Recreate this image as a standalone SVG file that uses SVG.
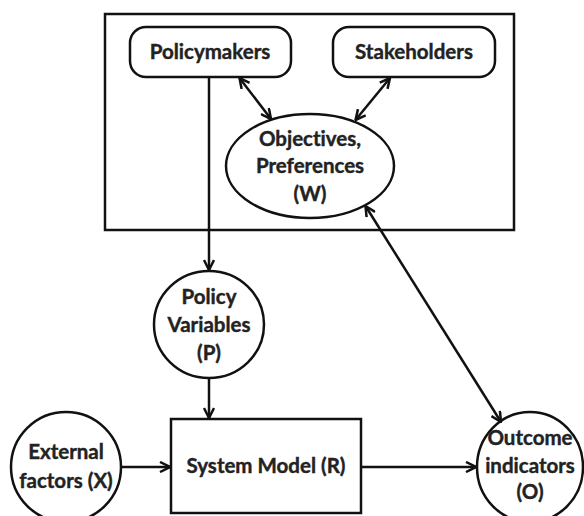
<svg xmlns="http://www.w3.org/2000/svg" width="584" height="516" viewBox="0 0 584 516">
<defs>
<style>
.s{fill:#fff;stroke:#111;stroke-width:2.5}
.t{font-family:Lato,"Liberation Sans",sans-serif;font-weight:bold;font-size:20.5px;fill:#222;text-anchor:middle;font-variant-ligatures:none;stroke:#222;stroke-width:0.4}
.c{fill:none;stroke:#111;stroke-width:2.5}
</style>
<marker id="ah" viewBox="0 0 12 12" refX="11" refY="6" markerWidth="12" markerHeight="12" markerUnits="userSpaceOnUse" orient="auto-start-reverse">
<path d="M1,1 L11,6 L1,11" fill="none" stroke="#111" stroke-width="2.5"/>
</marker>
</defs>
<rect width="584" height="516" fill="#fff"/>
<g id="frame"><rect class="s" x="105" y="14" width="409" height="216"/></g>
<g id="policymakers"><rect class="s" x="130" y="27" width="161" height="50" rx="16"/><text class="t" x="210" y="59">Policymakers</text></g>
<g id="stakeholders"><rect class="s" x="333" y="27" width="162" height="50" rx="16"/><text class="t" x="414" y="59">Stakeholders</text></g>
<g id="objectives"><ellipse class="s" cx="310" cy="166" rx="84" ry="52"/><text class="t" x="310" y="146">Objectives,</text><text class="t" x="310" y="173">Preferences</text><text class="t" x="310" y="201">(W)</text></g>
<g id="policy-variables"><ellipse class="s" cx="209" cy="324.5" rx="55" ry="53.5"/><text class="t" x="209" y="304">Policy</text><text class="t" x="209" y="332">Variables</text><text class="t" x="209" y="360">(P)</text></g>
<g id="system-model"><rect class="s" x="171" y="419" width="190" height="94"/><text class="t" x="266" y="473">System Model (R)</text></g>
<g id="external"><ellipse class="s" cx="66" cy="467" rx="55" ry="55"/><text class="t" x="66" y="459">External</text><text class="t" x="66" y="488">factors (X)</text></g>
<g id="outcome"><ellipse class="s" cx="530" cy="467" rx="53" ry="55"/><text class="t" x="530" y="445">Outcome</text><text class="t" x="530" y="473">indicators</text><text class="t" x="530" y="499">(O)</text></g>
<g id="connectors">
<line class="c" x1="209" y1="77" x2="209" y2="270" marker-end="url(#ah)"/>
<line class="c" x1="239.5" y1="78" x2="271" y2="119" marker-start="url(#ah)" marker-end="url(#ah)"/>
<line class="c" x1="390" y1="78" x2="355.5" y2="120" marker-start="url(#ah)" marker-end="url(#ah)"/>
<line class="c" x1="365.5" y1="206" x2="501" y2="422" marker-start="url(#ah)" marker-end="url(#ah)"/>
<line class="c" x1="209" y1="378" x2="209" y2="418" marker-end="url(#ah)"/>
<line class="c" x1="121" y1="467" x2="170" y2="467" marker-end="url(#ah)"/>
<line class="c" x1="361" y1="467" x2="476" y2="467" marker-end="url(#ah)"/>
</g>
</svg>
